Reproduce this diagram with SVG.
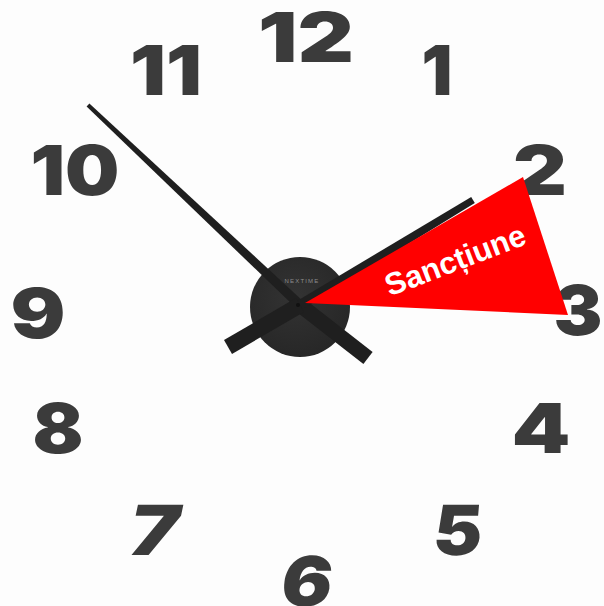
<svg xmlns="http://www.w3.org/2000/svg" width="604" height="606" viewBox="0 0 604 606">
<style>
.num{font-family:Inter,"Open Sans","DejaVu Sans",sans-serif;font-weight:900;font-size:69px;fill:#3b3b3b;text-anchor:middle}
.hand{fill:#1f1f1f}
.lbl{font-family:"Liberation Sans",Arial,sans-serif;font-weight:bold;font-size:31px;fill:#ffffff;text-anchor:middle}
</style>
<defs>
<radialGradient id="disk" cx="0.45" cy="0.4" r="0.65">
<stop offset="0" stop-color="#333333"/>
<stop offset="1" stop-color="#262626"/>
</radialGradient>
</defs>
<rect x="0" y="0" width="604" height="606" fill="#fdfdfd"/>
<g id="numbers">
<text id="n12" class="num" x="306" y="62" textLength="96" lengthAdjust="spacingAndGlyphs">12</text>
<text id="n11" class="num" x="166" y="95" textLength="72" lengthAdjust="spacingAndGlyphs">11</text>
<text id="n1" class="num" x="437" y="95" textLength="31" lengthAdjust="spacingAndGlyphs">1</text>
<text id="n10" class="num" x="75" y="195" textLength="89" lengthAdjust="spacingAndGlyphs">10</text>
<text id="n2" class="num" x="540" y="195" textLength="54" lengthAdjust="spacingAndGlyphs">2</text>
<text id="n9" class="num" x="38" y="338" textLength="55" lengthAdjust="spacingAndGlyphs">9</text>
<text id="n3" class="num" x="578" y="335" textLength="49" lengthAdjust="spacingAndGlyphs">3</text>
<text id="n8" class="num" x="58" y="453" textLength="51" lengthAdjust="spacingAndGlyphs">8</text>
<text id="n4" class="num" x="541" y="453" textLength="59" lengthAdjust="spacingAndGlyphs">4</text>
<text id="n7" class="num" transform="translate(150,555) skewX(-12)" x="0" y="0" textLength="50" lengthAdjust="spacingAndGlyphs">7</text>
<text id="n5" class="num" transform="translate(456,555) skewX(-5)" x="0" y="0" textLength="49" lengthAdjust="spacingAndGlyphs">5</text>
<text id="n6" class="num" transform="translate(304,606) skewX(-8)" x="0" y="0" textLength="51" lengthAdjust="spacingAndGlyphs">6</text>
</g>
<g id="clock">
<circle id="dial" cx="300" cy="307" r="50" fill="url(#disk)"/>
<text id="brand" x="302" y="283" font-family="'Liberation Sans',Arial,sans-serif" font-size="6" letter-spacing="1.2" fill="#8c8c8c" text-anchor="middle">NEXTIME</text>
<polygon id="minute-hand" class="hand" points="86.6,106.5 89.4,103.5 303.4,301.4 296.6,308.6"/>
<polygon id="minute-tail" class="hand" points="295.4,310.9 304.6,299.1 372.6,352.1 363.4,363.9"/>
<polygon id="hour-hand" class="hand" points="297.4,300.7 471.2,197 474.8,203 302.6,309.3"/>
<polygon id="hour-tail" class="hand" points="304,311.9 296,298.1 224,340.1 232,353.9"/>
<circle cx="298" cy="305" r="2" fill="#111"/>
</g>
<g id="sanctiune">
<polygon points="305,303 523,177 568,315" fill="#ff0000"/>
<text class="lbl" transform="translate(459,270) rotate(-21)" x="0" y="0">Sancțiune</text>
</g>
</svg>
